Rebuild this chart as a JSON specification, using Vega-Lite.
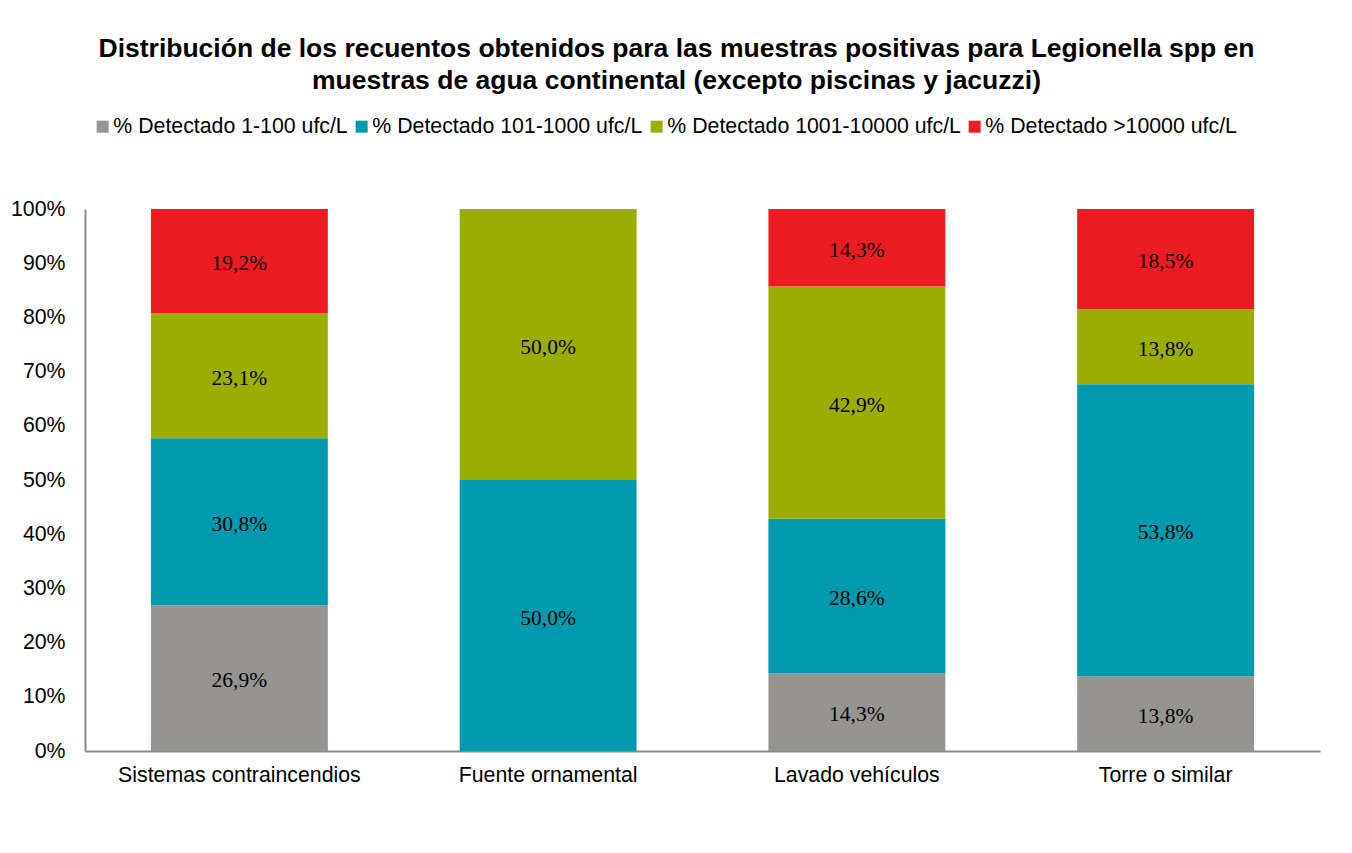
{
  "$schema": "https://vega.github.io/schema/vega-lite/v6.json",
  "width": 1235,
  "height": 542,
  "autosize": {"type": "none"},
  "padding": {"left": 85, "top": 209, "right": 32, "bottom": 102},
  "background": "white",
  "config": {
    "view": {"stroke": null},
    "locale": {"number": {"decimal": ",", "thousands": ".", "grouping": [3], "currency": ["", " €"]}}
  },
  "title": {
    "text": ["Distribución de los recuentos obtenidos para las muestras positivas para Legionella spp en", "muestras de agua continental (excepto piscinas y jacuzzi)"],
    "font": "Liberation Sans",
    "fontSize": 26.5,
    "fontWeight": "bold",
    "color": "#000000",
    "anchor": "middle",
    "frame": "group",
    "dx": -26,
    "lineHeight": 32,
    "offset": 22
  },
  "data": {
    "values": [
      {"tipo": "Sistemas contraincendios", "serie": "% Detectado 1-100 ufc/L", "k": 1, "pct": 0.269},
      {"tipo": "Sistemas contraincendios", "serie": "% Detectado 101-1000 ufc/L", "k": 2, "pct": 0.308},
      {"tipo": "Sistemas contraincendios", "serie": "% Detectado 1001-10000 ufc/L", "k": 3, "pct": 0.231},
      {"tipo": "Sistemas contraincendios", "serie": "% Detectado >10000 ufc/L", "k": 4, "pct": 0.192},
      {"tipo": "Fuente ornamental", "serie": "% Detectado 101-1000 ufc/L", "k": 2, "pct": 0.5},
      {"tipo": "Fuente ornamental", "serie": "% Detectado 1001-10000 ufc/L", "k": 3, "pct": 0.5},
      {"tipo": "Lavado vehículos", "serie": "% Detectado 1-100 ufc/L", "k": 1, "pct": 0.143},
      {"tipo": "Lavado vehículos", "serie": "% Detectado 101-1000 ufc/L", "k": 2, "pct": 0.286},
      {"tipo": "Lavado vehículos", "serie": "% Detectado 1001-10000 ufc/L", "k": 3, "pct": 0.429},
      {"tipo": "Lavado vehículos", "serie": "% Detectado >10000 ufc/L", "k": 4, "pct": 0.143},
      {"tipo": "Torre o similar", "serie": "% Detectado 1-100 ufc/L", "k": 1, "pct": 0.138},
      {"tipo": "Torre o similar", "serie": "% Detectado 101-1000 ufc/L", "k": 2, "pct": 0.538},
      {"tipo": "Torre o similar", "serie": "% Detectado 1001-10000 ufc/L", "k": 3, "pct": 0.138},
      {"tipo": "Torre o similar", "serie": "% Detectado >10000 ufc/L", "k": 4, "pct": 0.185}
    ]
  },
  "encoding": {
    "x": {
      "field": "tipo",
      "type": "nominal",
      "sort": ["Sistemas contraincendios", "Fuente ornamental", "Lavado vehículos", "Torre o similar"],
      "scale": {"paddingInner": 0.427, "paddingOuter": 0.2135},
      "axis": {
        "title": null,
        "labelAngle": 0,
        "labelFont": "Liberation Sans",
        "labelFontSize": 21.3,
        "labelColor": "#000000",
        "labelPadding": 13,
        "labelLimit": 400,
        "ticks": false,
        "domainColor": "#898989",
        "domainWidth": 2
      }
    },
    "y": {
      "field": "pct",
      "type": "quantitative",
      "stack": "normalize",
      "scale": {"domain": [0, 1]},
      "axis": {
        "title": null,
        "format": ".0%",
        "values": [0, 0.1, 0.2, 0.3, 0.4, 0.5, 0.6, 0.7, 0.8, 0.9, 1],
        "grid": false,
        "ticks": false,
        "labelFont": "Liberation Sans",
        "labelFontSize": 21.3,
        "labelColor": "#000000",
        "labelPadding": 20,
        "domainColor": "#898989",
        "domainWidth": 2
      }
    },
    "order": {"field": "k", "type": "quantitative"}
  },
  "layer": [
    {
      "mark": {"type": "bar"},
      "encoding": {
        "color": {
          "field": "serie",
          "type": "nominal",
          "scale": {
            "domain": ["% Detectado 1-100 ufc/L", "% Detectado 101-1000 ufc/L", "% Detectado 1001-10000 ufc/L", "% Detectado >10000 ufc/L"],
            "range": ["#969490", "#009AAE", "#9BAE00", "#EC1C24"]
          },
          "legend": {
            "title": null,
            "orient": "none",
            "direction": "horizontal",
            "legendX": 7,
            "legendY": -93,
            "symbolType": "square",
            "symbolSize": 144,
            "symbolStrokeWidth": 0,
            "labelFont": "Liberation Sans",
            "labelFontSize": 21.3,
            "labelColor": "#000000",
            "labelLimit": 400,
            "labelOffset": 0,
            "columnPadding": 3
          }
        }
      }
    },
    {
      "mark": {"type": "text", "font": "Liberation Serif", "fontSize": 21.5, "color": "#000000", "baseline": "middle", "dy": 3},
      "encoding": {
        "y": {"field": "pct", "type": "quantitative", "stack": "normalize", "bandPosition": 0.5},
        "text": {"field": "pct", "type": "quantitative", "format": ".1%"}
      }
    }
  ]
}
